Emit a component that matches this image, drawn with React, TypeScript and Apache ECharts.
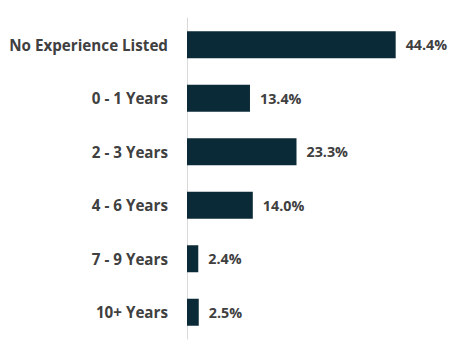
import React, { useEffect, useRef } from "react";
import * as echarts from "echarts";

const categories = ["No Experience Listed", "0 - 1 Years", "2 - 3 Years", "4 - 6 Years", "7 - 9 Years", "10+ Years"];
const values = [44.4, 13.4, 23.3, 14.0, 2.4, 2.5];

export default function App() {
  const ref = useRef<HTMLDivElement>(null);
  useEffect(() => {
    const chart = echarts.init(ref.current!, null, { renderer: "svg" });
    chart.setOption({
      animation: false,
      grid: { left: 187, right: 52, top: 18, bottom: 18, containLabel: false },
      xAxis: {
        type: "value",
        min: 0,
        max: 50,
        show: false,
      },
      yAxis: {
        type: "category",
        data: categories,
        inverse: true,
        axisLine: { show: true, lineStyle: { color: "#d9d9d9", width: 1 } },
        axisTick: { show: false },
        axisLabel: {
          margin: 19,
          color: "#404040",
          fontFamily: "Open Sans",
          fontWeight: "bold",
          fontSize: 15.2,
        },
      },
      series: [
        {
          type: "bar",
          data: values,
          barWidth: 27,
          itemStyle: { color: "#0b2a37" },
          label: {
            show: true,
            position: "right",
            distance: 10,
            color: "#404040",
            fontFamily: "Open Sans",
            fontWeight: "bold",
            fontSize: 14.3,
            formatter: (p: any) => p.value.toFixed(1) + "%",
          },
        },
      ],
    });
    return () => chart.dispose();
  }, []);
  return <div ref={ref} style={{ width: 474, height: 357, position: "absolute", left: 0, top: 0 }} />;
}
